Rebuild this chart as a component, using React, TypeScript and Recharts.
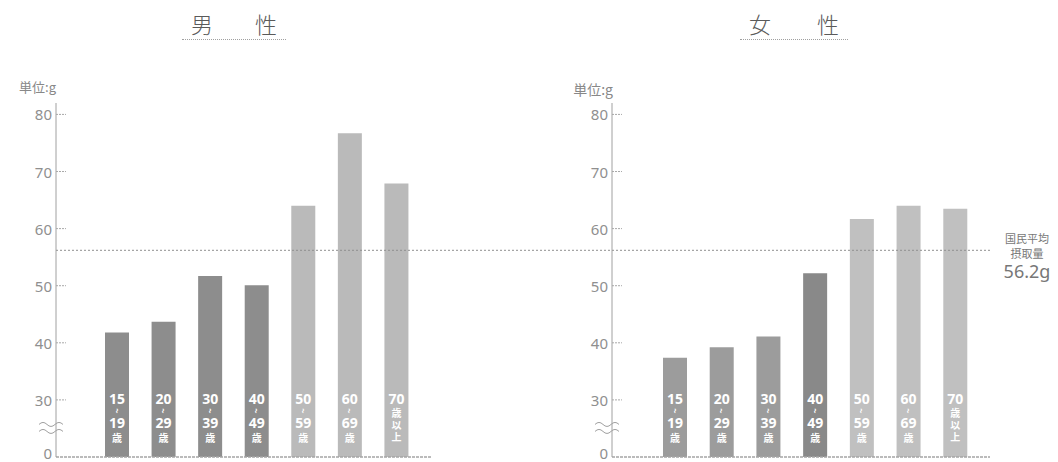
import React from 'react';
import { BarChart, Bar, XAxis, YAxis, ReferenceLine, LabelList, Cell } from 'recharts';

// age groups (x categories) and the text stacked inside each bar
const ageGroups = ['15〜19歳', '20〜29歳', '30〜39歳', '40〜49歳', '50〜59歳', '60〜69歳', '70歳以上'];
const ageLabelLines = ['15|~|19|歳', '20|~|29|歳', '30|~|39|歳', '40|~|49|歳', '50|~|59|歳', '60|~|69|歳', '70|歳|以|上'];

// grams per day
const maleValues = [41.8, 43.7, 51.7, 50.1, 64.0, 76.7, 67.9];
const femaleValues = [37.4, 39.2, 41.1, 52.2, 61.7, 64.0, 63.5];

// broken axis: the bottom tick (20) is labelled "0"
const yTicks = [20, 30, 40, 50, 60, 70, 80];
const yTickLabels = ['0', '30', '40', '50', '60', '70', '80'];
const nationalAverage = 56.2;
const axisBreakAt = 25;

const maleColors = ['#8d8d8d', '#8d8d8d', '#8d8d8d', '#8d8d8d', '#bababa', '#bababa', '#bababa'];
const femaleColors = ['#9c9c9c', '#9c9c9c', '#9c9c9c', '#898989', '#c0c0c0', '#c0c0c0', '#c0c0c0'];

const FONT = '"Noto Sans CJK JP", "Noto Sans", sans-serif';

const YTick = (props: any) => {
  const { x, y, payload } = props;
  const label = yTickLabels[yTicks.indexOf(payload.value)];
  const isBase = payload.value === 20;
  return (
    <g>
      <text x={x} y={isBase ? y - 4 : y} textAnchor="end" dominantBaseline="central" fill="#8f8f8f" fontSize={15} fontFamily='"Noto Sans", sans-serif'>
        {label}
      </text>
      {!isBase && <line x1={x + 4} x2={x + 14} y1={y} y2={y} stroke="#a8a8a8" strokeDasharray="2 1" />}
    </g>
  );
};

// stacked age text at the foot of every bar
const AgeLabel = (props: any) => {
  const vb = props.viewBox || props;
  const x = props.x ?? vb.x;
  const y = props.y ?? vb.y;
  const width = props.width ?? vb.width;
  const height = props.height ?? vb.height;
  const lines = String(props.value).split('|');
  const cx = x + width / 2;
  const bottom = y + height;
  const offsets = lines[1] === '~' ? [-59, -46, -35, -20] : [-59, -45, -33, -21];
  return (
    <g fontFamily={FONT} fill="#fff" fontWeight={700}>
      {lines.map((t, i) => {
        const cy = bottom + offsets[i];
        if (t === '~') {
          return (
            <text key={i} x={cx} y={cy} fontSize={9} textAnchor="middle" dominantBaseline="central" transform={`rotate(90 ${cx} ${cy})`}>
              ~
            </text>
          );
        }
        const isDigit = /\d/.test(t);
        return (
          <text key={i} x={cx} y={cy} fontSize={isDigit ? 14 : 10} textAnchor="middle" dominantBaseline="central" fontFamily={isDigit ? '"Noto Sans", sans-serif' : FONT}>
            {t}
          </text>
        );
      })}
    </g>
  );
};

const BreakMark = (props: any) => {
  const { x1, y1 } = props;
  const wave = (dy: number) => `M${x1 - 17},${y1 + dy} q4,-4 8,0 t8,0 t8,0`;
  return (
    <g fill="none" stroke="#a0a0a0" strokeWidth={1}>
      <path d={wave(-4)} />
      <path d={wave(3)} />
    </g>
  );
};

const AverageNote = (props: any) => {
  const { viewBox } = props;
  const cx = viewBox.x + viewBox.width + 37;
  const y = viewBox.y;
  return (
    <g fill="#777" fontFamily={FONT} textAnchor="middle">
      <text x={cx} y={y - 12} fontSize={11} dominantBaseline="central">国民平均</text>
      <text x={cx} y={y + 3} fontSize={11} dominantBaseline="central">摂取量</text>
      <text x={cx} y={y + 21} fontSize={18} dominantBaseline="central" fontFamily='"Noto Sans", sans-serif'>{`${nationalAverage}g`}</text>
    </g>
  );
};

interface PanelProps {
  values: number[];
  colors: string[];
  left: number;
  width: number;
  axisWidth: number;
  marginRight: number;
  padLeft: number;
  padRight: number;
  lineExtend: number;
  showNote: boolean;
}

function Panel({ values, colors, left, width, axisWidth, marginRight, padLeft, padRight, lineExtend, showNote }: PanelProps) {
  const data = ageGroups.map((g, i) => ({ group: g, value: values[i], lines: ageLabelLines[i] }));
  return (
    <div style={{ position: 'absolute', left, top: 0 }}>
      <BarChart width={width} height={462} data={data} margin={{ top: 103, right: marginRight, bottom: 4, left: 0 }}>
        <XAxis
          dataKey="group"
          tick={false}
          tickLine={false}
          height={1}
          padding={{ left: padLeft, right: padRight }}
          axisLine={{ stroke: '#a5a5a5', strokeWidth: 1.5, strokeDasharray: '3 1' }}
        />
        <YAxis
          domain={[20, 82]}
          ticks={yTicks}
          interval={0}
          width={axisWidth}
          tickSize={0}
          tickMargin={4}
          tickLine={false}
          tick={<YTick />}
          axisLine={{ stroke: '#a0a0a0' }}
        />
        <ReferenceLine y={axisBreakAt} shape={<BreakMark />} />
        <Bar dataKey="value" barSize={24} isAnimationActive={false}>
          {data.map((d, i) => (
            <Cell key={d.group} fill={colors[i]} />
          ))}
          <LabelList dataKey="lines" content={<AgeLabel />} />
        </Bar>
        <ReferenceLine
          y={nationalAverage}
          stroke="#8f8f8f"
          strokeDasharray="2 2"
          shape={(p: any) => <line x1={p.x1} y1={p.y1} x2={p.x2 + lineExtend} y2={p.y2} stroke="#8f8f8f" strokeDasharray="2 2" />}
          label={showNote ? <AverageNote /> : undefined}
        />
      </BarChart>
    </div>
  );
}

function Title({ first, second, left, width }: { first: string; second: string; left: number; width: number }) {
  return (
    <div
      style={{
        position: 'absolute', left, top: 9, width, padding: '0 9px', boxSizing: 'border-box',
        display: 'flex', justifyContent: 'space-between', fontSize: 22, lineHeight: '28px',
        color: '#5a5a5a', fontWeight: 300, fontFamily: FONT, borderBottom: '1.5px dotted #a0a0a0', height: 31
      }}
    >
      <span>{first}</span>
      <span>{second}</span>
    </div>
  );
}

function Unit({ right, top, size }: { right: number; top: number; size: number }) {
  return (
    <div style={{ position: 'absolute', left: right - 80, width: 80, top, textAlign: 'right', fontSize: size, color: '#888', fontFamily: FONT, lineHeight: '14px' }}>
      単位:g
    </div>
  );
}

export default function App() {
  return (
    <div style={{ position: 'absolute', left: 0, top: 0, width: 1058, height: 462, background: '#fff', overflow: 'hidden' }}>
      <Title first="男" second="性" left={182} width={104} />
      <Title first="女" second="性" left={740} width={108} />
      <Unit right={56} top={80} size={13} />
      <Unit right={613} top={82} size={14} />
      <Panel values={maleValues} colors={maleColors} left={0} width={612} axisWidth={56} marginRight={180} padLeft={38} padRight={12} lineExtend={180} showNote={false} />
      <Panel values={femaleValues} colors={femaleColors} left={540} width={518} axisWidth={72} marginRight={68} padLeft={40} padRight={11} lineExtend={0} showNote={true} />
    </div>
  );
}
